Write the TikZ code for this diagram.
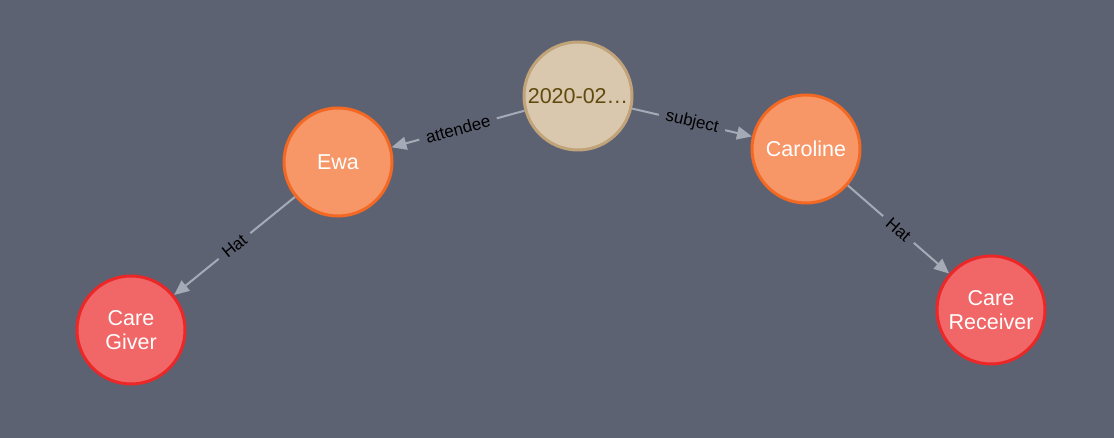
\documentclass[tikz,border=0pt]{standalone}
\usepackage{fontspec}
\setmainfont{Liberation Sans}
\usetikzlibrary{arrows.meta}
\definecolor{bg}{HTML}{5D6273}
\definecolor{edgec}{HTML}{A5ABB6}
\definecolor{datefill}{HTML}{D9C8AE}
\definecolor{dateline}{HTML}{C0A378}
\definecolor{datetext}{HTML}{604A0E}
\definecolor{orfill}{HTML}{F79767}
\definecolor{orline}{HTML}{F36924}
\definecolor{rdfill}{HTML}{F16667}
\definecolor{rdline}{HTML}{EB2728}
\begin{document}
\begin{tikzpicture}[x=1pt,y=-1pt,
  gnode/.style={circle,line width=3pt,minimum size=108pt,inner sep=0pt,align=center,
    text=white,font=\fontsize{21.5}{24}\selectfont},
  datenode/.style={gnode,fill=datefill,draw=dateline,text=datetext},
  ornode/.style={gnode,fill=orfill,draw=orline},
  rdnode/.style={gnode,fill=rdfill,draw=rdline},
  rel/.style={draw=edgec,line width=2pt,-{Triangle[length=15pt,width=13pt]}},
  rlabel/.style={midway,sloped,fill=bg,text=black,inner xsep=7pt,inner ysep=2pt,
    font=\fontsize{17}{19}\selectfont}
]
\useasboundingbox[fill=bg] (0,0) rectangle (1114,438);
\node[datenode] (d) at (578,96) {2020-02…};
\node[ornode] (ewa) at (338,162) {Ewa};
\node[ornode] (car) at (806,149) {Caroline};
\node[rdnode] (cg) at (131,330) {Care\\Giver};
\node[rdnode] (cr) at (991,310) {Care\\Receiver};
\draw[rel] (d) -- node[rlabel] {attendee} (ewa);
\draw[rel] (d) -- node[rlabel] {subject} (car);
\draw[rel] (ewa) -- node[rlabel] {Hat} (cg);
\draw[rel] (car) -- node[rlabel] {Hat} (cr);
\end{tikzpicture}
\end{document}
